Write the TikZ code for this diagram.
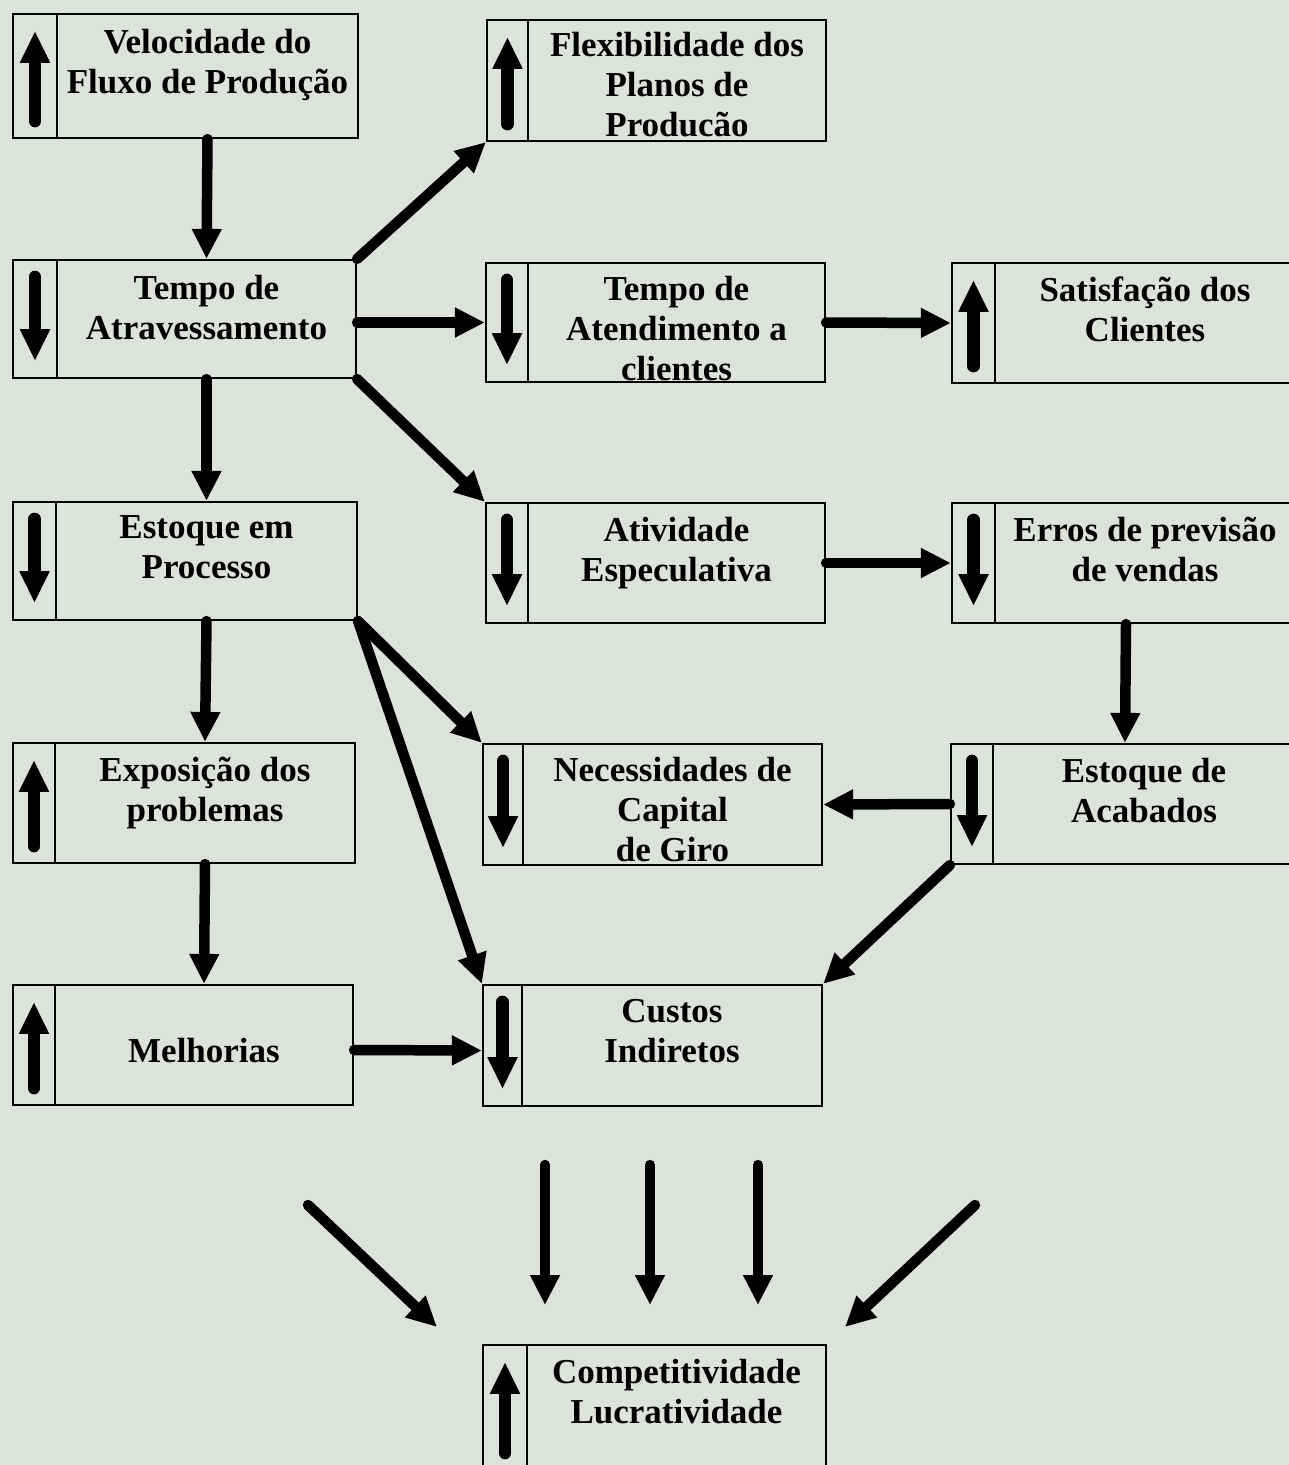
\documentclass[tikz,border=0pt]{standalone}
\usepackage{fontspec}
\setmainfont{Liberation Serif}
\usetikzlibrary{arrows.meta,calc,fit}
\definecolor{pagebg}{RGB}{221,227,219}
\newcommand\mkbox[9]{%
  \node[part, fit={(#2,#3)(#4,#6)}] (#1-i) {};
  \node[part, fit={(#4,#3)(#5,#6)}] (#1) {};
  \draw[#7] ($(#1-i.south)+(0,-18)$) -- ($(#1-i.north)+(0,18)$);
  \node[txt] (#1-t) at ($(#1.north)+(0,#9)$) {#8};
}
\begin{document}
\begin{tikzpicture}[x=1pt,y=-1pt,
  part/.style={draw=black,line width=2.2pt,inner sep=0pt},
  txt/.style={font=\fontsize{35}{40}\selectfont\bfseries, align=center, inner sep=0pt, anchor=north, execute at begin node={\rule{0pt}{25pt}}},
  conn/.style={line width=10.5pt, line cap=round, -{Triangle[width=28pt,length=30pt]}},
  indup/.style={line width=12.5pt, line cap=round, -{Triangle[width=28pt,length=32pt]}},
  inddown/.style={line width=12.5pt, line cap=round, {Triangle[width=28pt,length=32pt]}-}]
\useasboundingbox (0,0) rectangle (1289,1465);
\clip (0,0) rectangle (1289,1465);
\fill[pagebg] (0,0) rectangle (1289,1465);

\mkbox{vel}{13}{14}{57}{358}{138}{indup}{Velocidade do\\Fluxo de Produção}{16}
\mkbox{flex}{487}{20}{528}{826}{141}{indup}{Flexibilidade dos\\Planos de\\Producão}{13}
\mkbox{ta}{13}{260}{57}{356}{378}{inddown}{Tempo de\\Atravessamento}{16}
\mkbox{ate}{486}{263}{528}{825}{382}{inddown}{Tempo de\\Atendimento a\\clientes}{14}
\mkbox{sat}{952}{263}{995}{1295}{383}{indup}{Satisfação dos\\Clientes}{15}
\mkbox{est}{13}{502}{56}{357}{620}{inddown}{Estoque em\\Processo}{14}
\mkbox{ativ}{486}{503}{528}{825}{623}{inddown}{Atividade\\Especulativa}{15}
\mkbox{erros}{952}{503}{995}{1295}{623}{inddown}{Erros de previsão\\de vendas}{15}
\mkbox{exp}{13}{743}{55}{355}{863}{indup}{Exposição dos\\problemas}{15}
\mkbox{nec}{483}{744}{523}{822}{865}{inddown}{Necessidades de\\Capital\\de Giro}{14}
\mkbox{acab}{951}{744}{993}{1295}{864}{inddown}{Estoque de\\Acabados}{15}
\mkbox{mel}{13}{985}{55}{353}{1105}{indup}{Melhorias}{53}
\mkbox{cus}{483}{985}{522}{822}{1106}{inddown}{Custos\\Indiretos}{15}
\mkbox{comp}{483}{1345}{527}{826}{1470}{indup}{Competitividade\\Lucratividade}{15}

\draw[conn] (vel.south) -- (ta.north);
\draw[conn] (ta.north east) -- (flex-i.south west);
\draw[conn] (ate-i.west -| ta.east) -- (ate-i.west);
\draw[conn] (ate.east) -- (sat-i.west);
\draw[conn] (ta.south) -- (est.north);
\draw[conn] (ta.south east) -- (ativ-i.north west);
\draw[conn] (ativ.east) -- (erros-i.west);
\draw[conn] ([xshift=-19pt]erros.south) -- ([xshift=-19pt]acab.north);
\draw[conn] (est.south) -- (exp.north);
\draw[conn] (est.south east) -- (nec-i.north west);
\draw[conn] (est.south east) -- (cus-i.north west);
\draw[conn] (acab-i.west) -- (nec.east);
\draw[conn] (acab-i.south west) -- (cus.north east);
\draw[conn] (exp.south) -- (mel.north);
\draw[conn] ([yshift=-5pt]mel.east) -- ([yshift=-5pt]cus-i.west);

\coordinate (f1s) at (308,1205); \coordinate (f1e) at (437,1327);
\coordinate (f2s) at (545,1165); \coordinate (f2e) at (545,1305);
\coordinate (f3s) at (650,1165); \coordinate (f3e) at (650,1305);
\coordinate (f4s) at (758,1165); \coordinate (f4e) at (758,1305);
\coordinate (f5s) at (975,1205); \coordinate (f5e) at (845,1327);
\foreach \i in {1,...,5} \draw[conn] (f\i s) -- (f\i e);
\end{tikzpicture}
\end{document}
